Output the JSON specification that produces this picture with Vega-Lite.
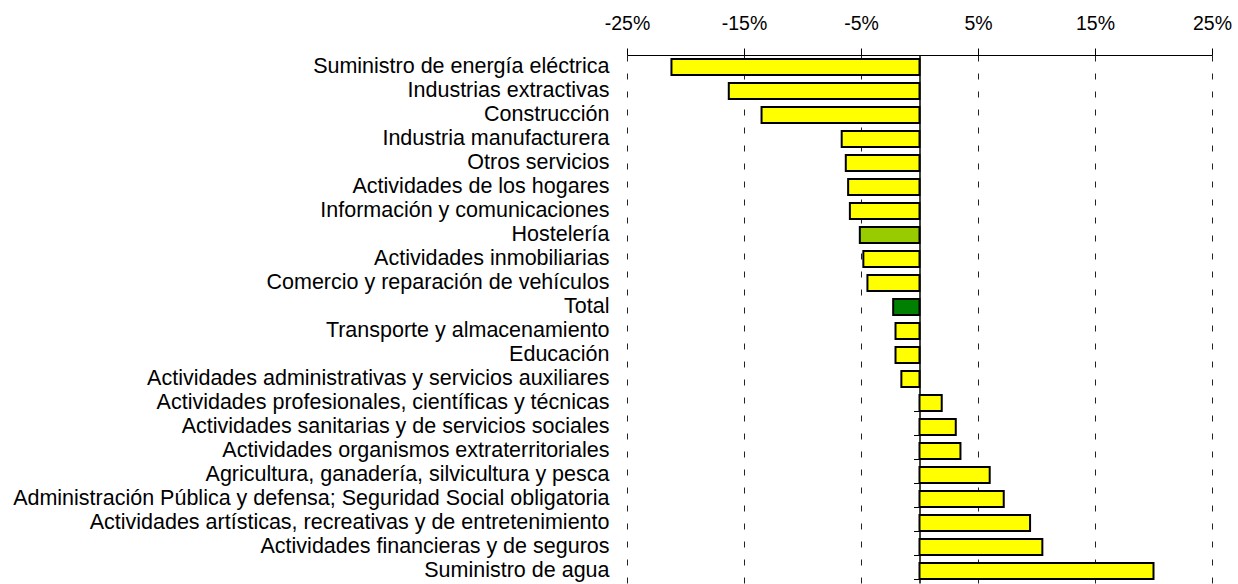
{
  "$schema": "https://vega.github.io/schema/vega-lite/v6.json",
  "width": 585,
  "height": 528,
  "autosize": {"type": "none"},
  "padding": {"left": 627, "top": 55, "right": 26, "bottom": 1},
  "background": "white",
  "config": {
    "view": {"stroke": null},
    "font": "Liberation Sans",
    "axis": {"labelFont": "Liberation Sans", "labelFontSize": 21.5, "labelColor": "black"}
  },
  "data": {
    "values": [
      {"sector": "Suministro de energía eléctrica", "variacion": -21.2, "tipo": "sector"},
      {"sector": "Industrias extractivas", "variacion": -16.3, "tipo": "sector"},
      {"sector": "Construcción", "variacion": -13.5, "tipo": "sector"},
      {"sector": "Industria manufacturera", "variacion": -6.65, "tipo": "sector"},
      {"sector": "Otros servicios", "variacion": -6.3, "tipo": "sector"},
      {"sector": "Actividades de los hogares\u00a0", "variacion": -6.1, "tipo": "sector"},
      {"sector": "Información y comunicaciones", "variacion": -5.95, "tipo": "sector"},
      {"sector": "Hostelería", "variacion": -5.1, "tipo": "destacado"},
      {"sector": "Actividades inmobiliarias", "variacion": -4.8, "tipo": "sector"},
      {"sector": "Comercio y reparación de vehículos", "variacion": -4.45, "tipo": "sector"},
      {"sector": "Total", "variacion": -2.25, "tipo": "total"},
      {"sector": "Transporte y almacenamiento", "variacion": -2.05, "tipo": "sector"},
      {"sector": "Educación", "variacion": -2.05, "tipo": "sector"},
      {"sector": "Actividades administrativas y servicios auxiliares", "variacion": -1.55, "tipo": "sector"},
      {"sector": "Actividades profesionales, científicas y técnicas", "variacion": 1.9, "tipo": "sector"},
      {"sector": "Actividades sanitarias y de servicios sociales", "variacion": 3.1, "tipo": "sector"},
      {"sector": "Actividades organismos extraterritoriales", "variacion": 3.5, "tipo": "sector"},
      {"sector": "Agricultura, ganadería, silvicultura y pesca", "variacion": 6.0, "tipo": "sector"},
      {"sector": "Administración Pública y defensa; Seguridad Social obligatoria", "variacion": 7.2, "tipo": "sector"},
      {"sector": "Actividades artísticas, recreativas y de entretenimiento", "variacion": 9.45, "tipo": "sector"},
      {"sector": "Actividades financieras y de seguros", "variacion": 10.5, "tipo": "sector"},
      {"sector": "Suministro de agua", "variacion": 20.0, "tipo": "sector"}
    ]
  },
  "layer": [
    {
      "mark": {"type": "bar", "stroke": "black", "strokeWidth": 2},
      "encoding": {
        "y": {
          "field": "sector",
          "type": "nominal",
          "sort": null,
          "scale": {"paddingInner": 0.333, "paddingOuter": 0.1667},
          "axis": {
            "orient": "left",
            "title": null,
            "domain": false,
            "ticks": false,
            "labelPadding": 18,
            "labelLimit": 700
          }
        },
        "x": {
          "field": "variacion",
          "type": "quantitative",
          "scale": {"domain": [-25, 25], "nice": false, "zero": false},
          "axis": {
            "orient": "top",
            "title": null,
            "values": [-25, -15, -5, 5, 15, 25],
            "labelExpr": "datum.value + '%'",
            "labelFlush": false,
            "labelFontSize": 19.5,
            "domain": true,
            "domainColor": "black",
            "domainWidth": 1,
            "tickColor": "black",
            "tickSize": 7,
            "tickWidth": 1,
            "labelPadding": 15,
            "grid": true,
            "gridColor": "#222",
            "gridWidth": 1,
            "gridDash": [6, 12]
          }
        },
        "color": {
          "field": "tipo",
          "type": "nominal",
          "scale": {"domain": ["sector", "destacado", "total"], "range": ["#ffff00", "#99cc00", "#008000"]},
          "legend": null
        }
      }
    },
    {
      "mark": {"type": "tick", "opacity": 0},
      "encoding": {
        "y": {
          "field": "sector",
          "type": "nominal",
          "sort": null,
          "axis": {
            "orient": "left",
            "offset": -292.5,
            "title": null,
            "labels": false,
            "domain": true,
            "domainColor": "black",
            "domainWidth": 1.5,
            "ticks": true,
            "tickBand": "extent",
            "tickSize": 6,
            "tickColor": "black",
            "tickWidth": 1,
            "grid": false
          }
        },
        "x": {"field": "variacion", "type": "quantitative"}
      }
    }
  ],
  "resolve": {"axis": {"y": "independent"}}
}
